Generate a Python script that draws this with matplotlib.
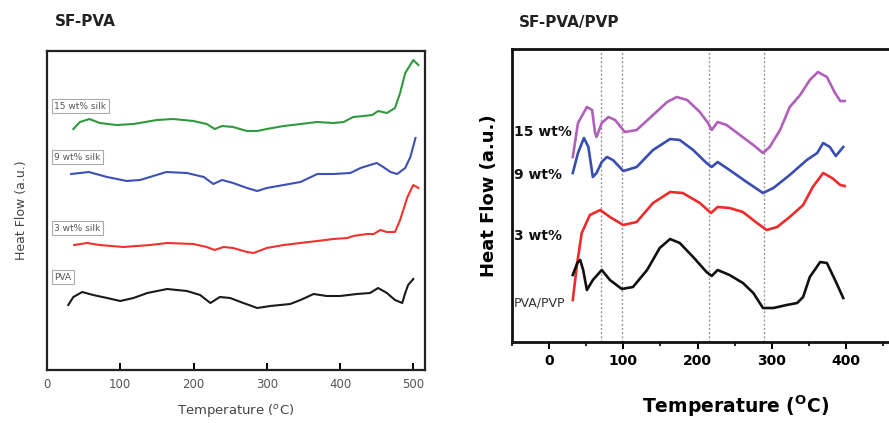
import matplotlib
matplotlib.use("Agg")
import matplotlib.pyplot as plt

# ---------------- Left panel data (SF-PVA) ----------------
L_T_15 = [36, 45, 58, 72, 95, 118, 150, 172, 200, 218, 229, 239, 254, 273, 287, 300, 323, 346, 369, 391, 405, 418, 432, 444, 452, 464, 475, 482, 489, 500, 507]
L_V_15 = [241, 248, 251, 247, 245, 246, 250, 251, 249, 246, 241, 244, 243, 239, 239, 241, 244, 246, 248, 247, 248, 253, 254, 255, 259, 257, 262, 277, 297, 310, 305]

L_T_9 = [33, 57, 82, 109, 127, 163, 191, 214, 227, 239, 254, 273, 287, 300, 323, 346, 369, 391, 414, 428, 441, 450, 459, 469, 478, 489, 496, 503]
L_V_9 = [196, 198, 193, 189, 190, 198, 197, 193, 186, 190, 187, 182, 179, 182, 185, 188, 196, 196, 197, 202, 205, 207, 203, 198, 196, 202, 213, 232]

L_T_3 = [37, 55, 72, 104, 141, 164, 200, 218, 229, 241, 254, 273, 282, 300, 323, 346, 369, 391, 410, 418, 437, 446, 455, 464, 475, 482, 492, 500, 507]
L_V_3 = [125, 127, 125, 123, 125, 127, 126, 123, 120, 123, 122, 118, 117, 122, 125, 127, 129, 131, 132, 134, 136, 136, 140, 138, 138, 150, 173, 185, 182]

L_T_PVA = [29, 36, 48, 63, 82, 100, 118, 137, 164, 191, 209, 223, 236, 250, 268, 287, 305, 332, 346, 364, 382, 400, 423, 441, 452, 464, 475, 485, 489, 493, 500]
L_V_PVA = [65, 73, 78, 75, 72, 69, 72, 77, 81, 79, 75, 67, 73, 72, 67, 62, 64, 66, 70, 76, 74, 74, 76, 77, 82, 77, 70, 67, 77, 85, 91]

L_LABELS = ["15 wt% silk", "9 wt% silk", "3 wt% silk", "PVA"]
L_LABEL_Y = [264, 213, 142, 93]
L_TICKS = [0, 100, 200, 300, 400, 500]

# ---------------- Right panel data (SF-PVA/PVP) ----------------
R_T_15 = [32, 39, 51, 58, 62, 64, 71, 80, 89, 102, 118, 140, 159, 172, 186, 203, 214, 219, 227, 239, 257, 275, 288, 297, 311, 324, 338, 351, 362, 374, 385, 392, 398]
R_V_15 = [185, 219, 235, 232, 209, 205, 219, 225, 222, 210, 212, 227, 240, 245, 242, 230, 219, 212, 220, 217, 207, 197, 189, 195, 212, 235, 247, 262, 270, 265, 249, 241, 241]

R_T_9 = [32, 39, 47, 53, 59, 64, 71, 78, 86, 100, 118, 140, 163, 176, 194, 212, 219, 227, 243, 266, 288, 302, 324, 347, 361, 369, 378, 386, 396]
R_V_9 = [169, 189, 204, 195, 165, 169, 180, 185, 182, 171, 175, 192, 203, 202, 192, 179, 175, 180, 172, 160, 149, 154, 167, 182, 189, 199, 195, 186, 195]

R_T_3 = [32, 38, 44, 55, 69, 82, 100, 118, 140, 163, 180, 203, 218, 227, 243, 261, 280, 293, 307, 324, 342, 355, 369, 381, 392, 398]
R_V_3 = [42, 79, 109, 127, 132, 125, 117, 120, 139, 150, 149, 139, 129, 135, 134, 130, 119, 112, 115, 125, 137, 155, 169, 164, 157, 156]

R_T_PVP = [32, 38, 42, 46, 51, 59, 71, 82, 98, 113, 132, 149, 163, 176, 194, 212, 219, 227, 243, 261, 275, 288, 302, 320, 334, 342, 351, 365, 374, 385, 396]
R_V_PVP = [67, 79, 82, 72, 52, 62, 72, 62, 53, 55, 72, 94, 103, 99, 85, 70, 66, 72, 67, 59, 49, 34, 34, 37, 39, 45, 65, 80, 79, 62, 44]

R_LABELS = ["15 wt%", "9 wt%", "3 wt%", "PVA/PVP"]
R_LABEL_Y = [210, 167, 106, 39]
R_VLINES = [70, 98, 215, 290]
R_TICKS = [0, 100, 200, 300, 400]

fig = plt.figure(figsize=(8.89, 4.23), dpi=100)

# ---------------- Left axes ----------------
axL = fig.add_axes([47/889, 53/423, 378/889, 319/423])
axL.set_xlim(0, 516)
axL.set_ylim(0, 319)
lw = 1.5
axL.plot(L_T_15, L_V_15, color="#2f9a3c", lw=lw, solid_joinstyle="round")
axL.plot(L_T_9, L_V_9, color="#3d4fb4", lw=lw, solid_joinstyle="round")
axL.plot(L_T_3, L_V_3, color="#f0332c", lw=lw, solid_joinstyle="round")
axL.plot(L_T_PVA, L_V_PVA, color="#1a1a1a", lw=lw, solid_joinstyle="round")
for lab, y in zip(L_LABELS, L_LABEL_Y):
    axL.text(10, y, lab, fontsize=6.5, color="#555555", va="center", ha="left",
             bbox=dict(boxstyle="square,pad=0.25", fc="white", ec="#aaaaaa", lw=0.8))
for s in axL.spines.values():
    s.set_linewidth(1.6)
    s.set_color("#222222")
axL.set_xticks(L_TICKS)
axL.tick_params(axis="x", direction="in", length=5, width=1.4, labelsize=8.5,
                labelcolor="#555555", pad=6)
axL.set_yticks([])
axL.set_xlabel("Temperature ($^{o}$C)", fontsize=9.5, color="#444444", labelpad=8)
axL.set_ylabel("Heat Flow (a.u.)", fontsize=9, color="#444444", labelpad=14)
fig.text(55/889, 1 - 22/423, "SF-PVA", fontsize=11, fontweight="bold", color="#222222",
         va="center", ha="left")

# ---------------- Right axes ----------------
x0 = 549
ppu = 0.743
left_px = x0 - 50 * ppu
right_lim = 480
width_px = (right_lim + 50) * ppu
axR = fig.add_axes([left_px/889, 81/423, width_px/889, 293/423])
axR.set_xlim(-50, right_lim)
axR.set_ylim(0, 293)
for xv in R_VLINES:
    axR.axvline(xv, color="#999999", lw=1.0, ls=(0, (1.5, 1.5)), zorder=1)
lw2 = 1.9
axR.plot(R_T_15, R_V_15, color="#b060bb", lw=lw2, solid_joinstyle="round", zorder=3)
axR.plot(R_T_9, R_V_9, color="#3a4db2", lw=lw2, solid_joinstyle="round", zorder=3)
axR.plot(R_T_3, R_V_3, color="#ee2b2b", lw=lw2, solid_joinstyle="round", zorder=3)
axR.plot(R_T_PVP, R_V_PVP, color="#111111", lw=lw2, solid_joinstyle="round", zorder=3)
for lab, y in zip(R_LABELS, R_LABEL_Y):
    if lab == "PVA/PVP":
        axR.text(-47, y, lab, fontsize=9, color="#333333", va="center", ha="left", zorder=4)
    else:
        axR.text(-47, y, lab, fontsize=10, fontweight="bold", color="#111111",
                 va="center", ha="left", zorder=4)
axR.spines["right"].set_visible(False)
for k in ["left", "top", "bottom"]:
    axR.spines[k].set_linewidth(2.0)
    axR.spines[k].set_color("#111111")
axR.set_xticks(R_TICKS)
axR.set_xticks([-50, 50, 150, 250, 350, 450], minor=True)
axR.tick_params(axis="x", which="major", direction="out", length=5, width=1.4,
                labelsize=10)
axR.tick_params(axis="x", which="minor", direction="out", length=3, width=1.2)
for t in axR.get_xticklabels():
    t.set_fontweight("bold")
axR.set_yticks([])
axR.set_xlabel("Temperature ($^{\\mathbf{O}}$C)", fontsize=13.5, fontweight="bold",
               va="center")
axR.xaxis.set_label_coords((736 - left_px) / width_px, -(406 - 342) / 293)
axR.set_ylabel("Heat Flow (a.u.)", fontsize=13, fontweight="bold", labelpad=10)
fig.text(519/889, 1 - 22/423, "SF-PVA/PVP", fontsize=11, fontweight="bold",
         color="#222222", va="center", ha="left")

fig.savefig("out.png", dpi=100)
